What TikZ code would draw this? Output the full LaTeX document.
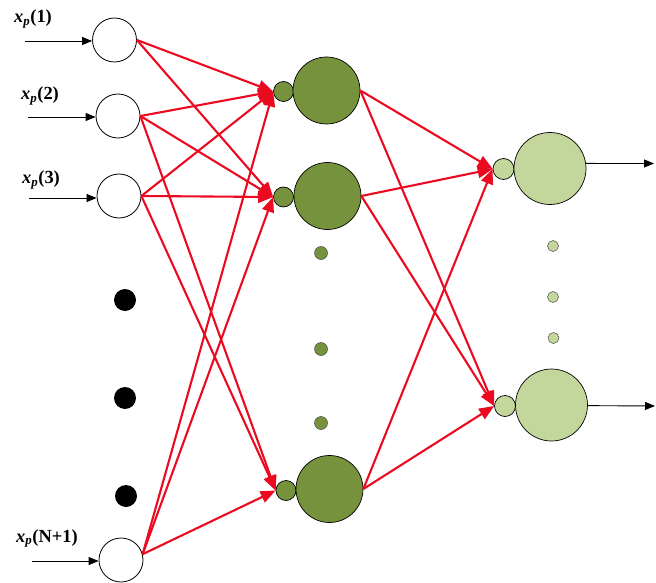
\documentclass[tikz,border=0pt]{standalone}
\usepackage{fontspec}
\setmainfont{Liberation Serif}
\usetikzlibrary{arrows.meta}
\definecolor{hidgreen}{RGB}{118,146,60}
\definecolor{outgreen}{RGB}{195,214,155}
\definecolor{linkred}{RGB}{236,10,32}
\tikzset{
  inp/.style={circle,draw=black,line width=0.8bp,fill=white,minimum size=44bp,inner sep=0pt},
  bigdot/.style={circle,fill=black,minimum size=22bp,inner sep=0pt},
  hidsmall/.style={circle,draw=black,line width=0.7bp,fill=hidgreen,minimum size=20bp,inner sep=0pt},
  hidbig/.style={circle,draw=black,line width=0.7bp,fill=hidgreen,minimum size=67bp,inner sep=0pt},
  hiddot/.style={circle,draw=black!70,line width=0.5bp,fill=hidgreen,minimum size=13bp,inner sep=0pt},
  outsmall/.style={circle,draw=black,line width=0.7bp,fill=outgreen,minimum size=21bp,inner sep=0pt},
  outbig/.style={circle,draw=black,line width=0.7bp,fill=outgreen,minimum size=72bp,inner sep=0pt},
  outdot/.style={circle,draw=black!70,line width=0.5bp,fill=outgreen,minimum size=11bp,inner sep=0pt},
  inarrow/.style={draw=black,line width=0.9bp,-{Triangle[length=10bp,width=8bp]}},
  link/.style={draw=linkred,line width=2.1bp,-{Triangle[length=15bp,width=12bp]}},
  lab/.style={anchor=base west,inner sep=0pt,font=\fontsize{18.5}{20}\selectfont\bfseries}
}
\newcommand{\xp}[1]{\textit{x}\textsubscript{\textit{p}}(#1)}
\begin{document}
\begin{tikzpicture}[x=1bp,y=-1bp]
\useasboundingbox (0,0) rectangle (656,583);
% input layer
\node[inp] (I1) at (114.5,40) {};
\node[inp] (I2) at (118,116) {};
\node[inp] (I3) at (119,196) {};
\node[inp] (I4) at (121,560) {};
\node[bigdot] (D1) at (125,300) {};
\node[bigdot] (D2) at (125,398) {};
\node[bigdot] (D3) at (126,496) {};
% labels
\node[lab] (L1) at (14,23) {\xp{1}};
\node[lab] (L2) at (21,100) {\xp{2}};
\node[lab] (L3) at (22,184) {\xp{3}};
\node[lab] (L4) at (16,542) {\xp{N+1}};
% input arrows
\coordinate (s1) at (25,41);
\coordinate (s2) at (28,117);
\coordinate (s3) at (29,198);
\coordinate (s4) at (32,561);
\draw[inarrow] (s1) -- (s1 -| I1.west);
\draw[inarrow] (s2) -- (s2 -| I2.west);
\draw[inarrow] (s3) -- (s3 -| I3.west);
\draw[inarrow] (s4) -- (s4 -| I4.west);
% hidden layer
\node[hidsmall] (H1s) at (283.5,91.5) {};
\node[hidbig] (H1) at (326.5,90.5) {};
\node[hidsmall] (H2s) at (283.5,197) {};
\node[hidbig] (H2) at (327.5,196) {};
\node[hidsmall] (H3s) at (286,490.5) {};
\node[hidbig] (H3) at (329.5,489) {};
\node[hiddot] (G1) at (321,253) {};
\node[hiddot] (G2) at (321,349) {};
\node[hiddot] (G3) at (321,423) {};
% output layer
\node[outsmall] (O1s) at (503.5,169) {};
\node[outbig] (O1) at (550,168.5) {};
\node[outsmall] (O2s) at (505,406) {};
\node[outbig] (O2) at (551.5,405) {};
\node[outdot] (P1) at (553,246) {};
\node[outdot] (P2) at (553,297) {};
\node[outdot] (P3) at (553.5,338) {};
% output arrows
\coordinate (t1) at (654,163.5);
\coordinate (t2) at (655,406);
\draw[inarrow] (O1.8) -- (t1);
\draw[inarrow] (O2.-1) -- (t2);
% input -> hidden
\foreach \i/\a/\h in {I1/east/H1s, I1/east/H2s,
                      I2/east/H1s, I2/east/H2s, I2/east/H3s,
                      I3/east/H1s, I3/east/H2s, I3/east/H3s,
                      I4/15/H1s, I4/15/H2s, I4/15/H3s}{
  \draw[link] (\i.\a) -- (\h.west);
}
% hidden -> output
\foreach \h in {H1,H2,H3}{
  \foreach \o in {O1s,O2s}{
    \draw[link] (\h.east) -- (\o.west);
  }
}
\end{tikzpicture}
\end{document}
